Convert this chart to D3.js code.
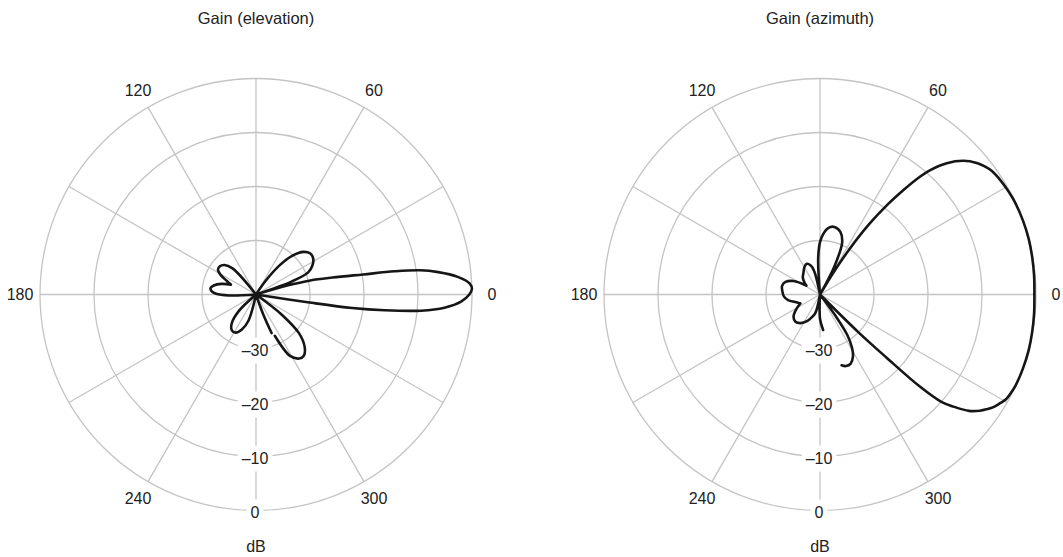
<!DOCTYPE html>
<html><head><meta charset="utf-8">
<script src="https://cdn.jsdelivr.net/npm/d3@7"></script>
<style>body{margin:0;background:#fff}</style>
</head><body><svg id="c" width="1063" height="557"></svg>
<script>
// Elevation pattern (angle in degrees, counter-clockwise from 0; gain in dB)
const elevAngles = [-65.5,-61,-56,-52,-47,-42,-38,-34,-9,-8.5,-8,-7,-5.6,-4,-2,0,1.5,3,5,7,8.4,9.5,10.6,12.5,14.5,16,17,20,23,27,32,37,42,47,51,55,58,128,132,137,142,147,151,155,158.5,163,168,172,176,179,182,186,218,224,230,236,242,248,254,260,288,290,292];
const elevGain = [-31.6,-27,-25.7,-25.6,-26.8,-29.3,-34,-40,-40,-30,-22,-16,-9.3,-5,-2,-0.5,0,-0.4,-2.5,-6,-9.3,-14,-19.8,-25.5,-29.6,-34,-40,-33,-29.5,-28.3,-27.5,-27.4,-28.2,-30.2,-33,-37,-40,-40,-33.5,-32,-31.5,-31.6,-32.5,-34,-35,-33.3,-32,-31.5,-31.8,-32.6,-35,-40,-40,-35.5,-33,-32,-32,-33,-35,-40,-40,-36,-32.3];
// Azimuth pattern
const azAngles = [-73,-70,-66,-62,-59,-56,-54,-52,-46,-44.5,-43.5,-42.7,-41.5,-40,-38,-36,-34.5,-33,-31,-29.5,-27,-25,-20,-15,-10,-5,0,5,10,15,20,25,27,30,33,35.7,38,40,43,46,48.5,50,51.4,53,55,57,58.5,60,63,67,72,78,83,87,90,93,96,100,104,108,114,120,128,135,141,147,153,160,167,175,183,190,197,204.5,212,220,228,236,244,250,256,262,266,270,275];
const azGain = [-26.3,-25.9,-26,-27,-28.5,-31,-35,-40,-40,-30,-23,-15,-10,-7.7,-5,-3.4,-2.5,-1.7,-1.0,-0.5,-0.2,-0.05,0,0,-0.1,-0.2,-0.3,-0.2,-0.1,0,0,-0.05,-0.12,-0.3,-0.5,-0.8,-1.4,-2.1,-3.7,-6.2,-9.3,-12,-15.3,-19,-24,-30,-35,-40,-34,-29.5,-27.8,-27.2,-27.6,-28.8,-30.3,-33.5,-40,-40,-35.5,-34.3,-33.8,-34.2,-35,-35.5,-36.2,-37,-34.5,-33.2,-32.8,-33,-33.3,-34,-35.2,-36,-34.8,-33.6,-33.2,-33.6,-34.5,-35.5,-36.5,-40,-40,-35.5,-33.4];

const ringTicks = [-30,-20,-10,0];
const ringLabels = ["\u201330","\u201320","\u201310","0"];
const spokeAngles = [0,30,60,90,120,150,180,210,240,270,300,330];
const angleTicks = [0,60,120,180,240,300];
const titles = ["Gain (elevation)","Gain (azimuth)"];
const unitLabel = "dB";

const svg = d3.select('#c');
const R = 216;
const rScale = d3.scaleLinear().domain([-40,0]).range([0,R]).clamp(true);
const FONT = "'Liberation Sans', Arial, Helvetica, sans-serif";
const GRID = '#c4c4c4';
const TXT = '#222';

function toRad(deg){ return (90 - deg) * Math.PI / 180; } // d3 radial convention

function drawPolar(cx, cy, title, angles, gains){
  const g = svg.append('g').attr('transform', `translate(${cx},${cy})`);
  g.selectAll('circle.ring').data(ringTicks).join('circle')
    .attr('class','ring').attr('r', d => rScale(d))
    .attr('fill','none').attr('stroke',GRID).attr('stroke-width',1.3);
  g.selectAll('line.spoke').data(spokeAngles).join('line')
    .attr('class','spoke')
    .attr('x1',0).attr('y1',0)
    .attr('x2', d => R*Math.sin(toRad(d)))
    .attr('y2', d => -R*Math.cos(toRad(d)))
    .attr('stroke',GRID).attr('stroke-width',1.3);
  g.selectAll('text.ang').data(angleTicks).join('text')
    .attr('class','ang')
    .attr('x', d => 236*Math.sin(toRad(d)))
    .attr('y', d => -236*Math.cos(toRad(d)))
    .attr('dy','0.35em').attr('text-anchor','middle')
    .attr('font-family',FONT).attr('font-size',16).attr('fill',TXT)
    .text(d => d);
  ringTicks.forEach((t,i) => {
    const y = rScale(t) + 2;
    const txt = g.append('text').attr('x',-1).attr('y',y).attr('dy','0.35em')
      .attr('text-anchor','middle').attr('font-family',FONT).attr('font-size',16)
      .attr('fill',TXT).text(ringLabels[i]);
    const w = txt.node().getComputedTextLength();
    g.insert('rect', () => txt.node())
      .attr('x', -1 - w/2 - 4).attr('y', y - 13).attr('width', w + 8).attr('height', 26)
      .attr('fill','#fff');
  });
  svg.append('text').attr('x',cx).attr('y',24).attr('text-anchor','middle')
    .attr('font-family',FONT).attr('font-size',16.5).attr('fill',TXT).text(title);
  svg.append('text').attr('x',cx).attr('y',552).attr('text-anchor','middle')
    .attr('font-family',FONT).attr('font-size',16).attr('fill',TXT).text(unitLabel);

  const pts = angles.map((a,i) => [a, gains[i]]);
  const segs = []; let cur = [pts[0]];
  for (let i = 1; i < pts.length; i++) {
    cur.push(pts[i]);
    if (i < pts.length-1 && gains[i] <= -30 && gains[i] <= gains[i-1] && gains[i] <= gains[i+1]) {
      segs.push(cur); cur = [pts[i]];
    }
  }
  segs.push(cur);
  const line = d3.lineRadial()
    .angle(d => toRad(d[0]))
    .radius(d => rScale(d[1]))
    .curve(d3.curveCatmullRom.alpha(0.5));
  const dStr = segs.filter(s => s.length > 1 && s.some(p => p[1] > -40)).map(s => line(s)).join('');
  g.append('path').attr('d', dStr).attr('fill','none')
    .attr('stroke','#161616').attr('stroke-width',2.6)
    .attr('stroke-linecap','round').attr('stroke-linejoin','round');
}

drawPolar(256, 294.5, titles[0], elevAngles, elevGain);
drawPolar(820, 294.5, titles[1], azAngles, azGain);
</script>
</body></html>
